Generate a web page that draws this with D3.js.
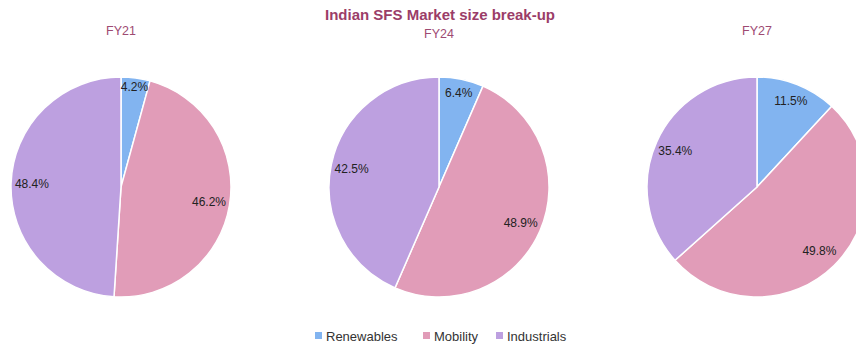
<!DOCTYPE html>
<html>
<head>
<meta charset="utf-8">
<script src="https://cdn.jsdelivr.net/npm/d3@7"></script>
<style>
  html, body { margin: 0; padding: 0; background: #fff; }
  svg { display: block; font-family: "Liberation Sans", Arial, sans-serif; }
</style>
</head>
<body>
<svg id="chart" width="856" height="347"></svg>
<script>
// Segments of the Indian SFS market, share of total (%)
const segments = ["Renewables", "Mobility", "Industrials"];
const years = ["FY21", "FY24", "FY27"];
const fy21 = [4.2, 46.2, 48.4];
const fy24 = [6.4, 48.9, 42.5];
const fy27 = [11.5, 49.8, 35.4];
const segmentColors = ["#82b4f0", "#e19cb8", "#bda0e0"];

const shares = [fy21, fy24, fy27];

const svg = d3.select("#chart");

svg.append("text")
  .attr("x", 440).attr("y", 20)
  .attr("text-anchor", "middle")
  .attr("font-size", 15).attr("font-weight", "bold")
  .attr("fill", "#9b3d68")
  .text("Indian SFS Market size break-up");

const color = d3.scaleOrdinal().domain(segments).range(segmentColors);

// Pie centres spread across the width
const cx = d3.scalePoint().domain(years).range([121, 757]);
const titleY = { FY21: 35, FY24: 38, FY27: 35 };
const cy = 187, R = 110;

const pie = d3.pie().sort(null).value(d => d.v);
const arc = d3.arc().innerRadius(0).outerRadius(R);

// Narrow slices get their label pushed further out toward the rim
const labelRadius = v => R * Math.min(0.93, 0.8 + 0.5 / v);

years.forEach((yr, i) => {
  const g = svg.append("g").attr("transform", `translate(${cx(yr)},${cy})`);
  const data = segments.map((s, j) => ({ s, v: shares[i][j] }));
  const arcs = pie(data);

  g.selectAll("path").data(arcs).join("path")
    .attr("d", arc)
    .attr("fill", d => color(d.data.s))
    .attr("stroke", "#fff")
    .attr("stroke-width", 1.5);

  g.selectAll("text.lbl").data(arcs).join("text")
    .attr("class", "lbl")
    .attr("transform", d => {
      const a = (d.startAngle + d.endAngle) / 2;
      const r = labelRadius(d.data.v);
      return `translate(${Math.sin(a) * r},${-Math.cos(a) * r})`;
    })
    .attr("text-anchor", "middle")
    .attr("dy", "0.35em")
    .attr("font-size", 12)
    .attr("fill", "#222")
    .text(d => d.data.v.toFixed(1) + "%");

  svg.append("text")
    .attr("x", cx(yr)).attr("y", titleY[yr])
    .attr("text-anchor", "middle")
    .attr("font-size", 12.5)
    .attr("fill", "#9e4a72")
    .text(yr);
});

// Legend
const legendX = [315, 423, 496];
const lg = svg.append("g");
segments.forEach((s, j) => {
  lg.append("rect")
    .attr("x", legendX[j]).attr("y", 332)
    .attr("width", 7).attr("height", 7)
    .attr("fill", color(s));
  lg.append("text")
    .attr("x", legendX[j] + 11).attr("y", 340.5)
    .attr("font-size", 13)
    .attr("fill", "#333")
    .text(s);
});
</script>
</body>
</html>
